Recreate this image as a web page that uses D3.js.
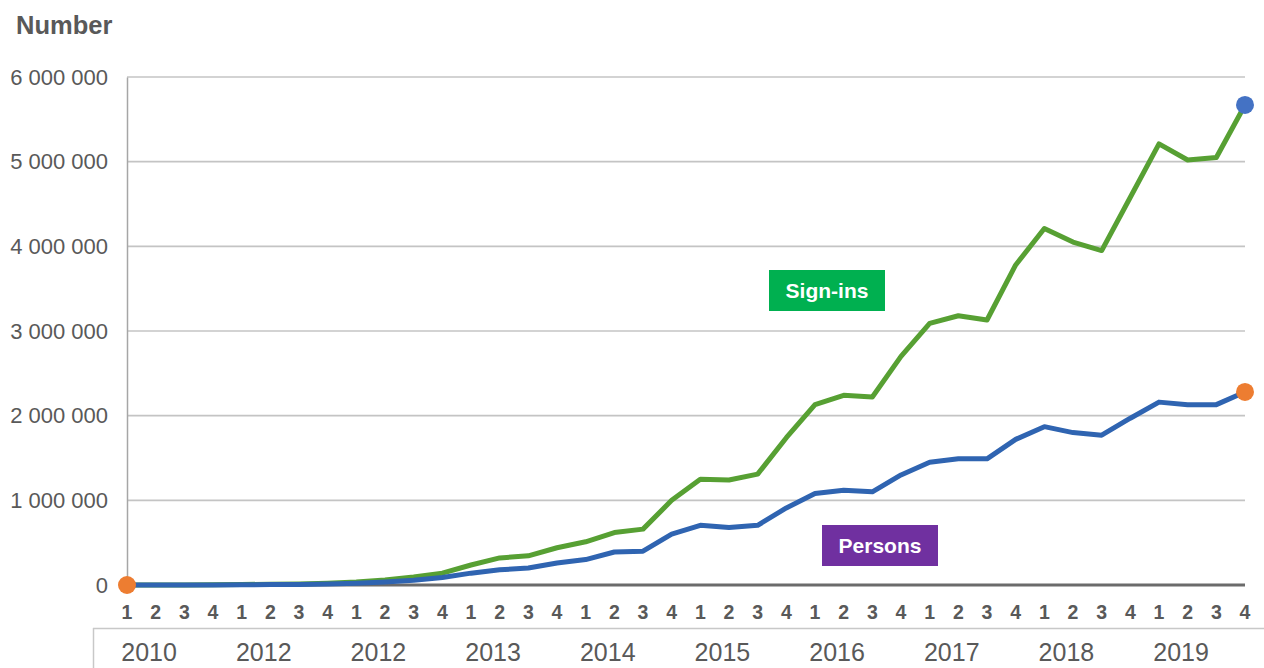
<!DOCTYPE html>
<html lang="en">
<head>
<meta charset="UTF-8">
<script src="https://d3js.org/d3.v7.min.js"></script>
<style>
  body { margin: 0; background: #fff; }
  text { font-family: "Liberation Sans", Arial, sans-serif; }
</style>
<title>Number</title>
</head>
<body>
<div class="canvas"></div>
<script>
  const years = ['2010', '2012', '2012', '2013', '2014', '2015', '2016', '2017', '2018', '2019']
  const quarters = ['1', '2', '3', '4']
  const yTicks = [0, 1000000, 2000000, 3000000, 4000000, 5000000, 6000000]

  const signIns = [0, 0, 0, 2000, 6000, 9000, 12000, 22000, 35000, 60000,
    95000, 140000, 236000, 320000, 345000, 440000, 510000, 620000, 660000, 1000000,
    1250000, 1240000, 1310000, 1740000, 2130000, 2240000, 2220000, 2700000, 3090000, 3180000,
    3130000, 3780000, 4210000, 4050000, 3950000, 4580000, 5210000, 5020000, 5050000, 5670000]
  const persons = [0, 0, 0, 0, 3000, 5000, 7000, 12000, 20000, 35000,
    55000, 88000, 140000, 180000, 200000, 260000, 300000, 390000, 400000, 600000,
    705000, 680000, 705000, 910000, 1080000, 1120000, 1100000, 1300000, 1450000, 1490000,
    1490000, 1720000, 1870000, 1800000, 1770000, 1970000, 2160000, 2130000, 2130000, 2280000]

  const W = 1264, H = 668
  const [mt, ml, mr] = [77, 127, 19]
  const plotH = 508

  const svg = d3.select('.canvas').append('svg')
    .attr('width', W).attr('height', H)

  const idx = d3.range(signIns.length)
  const x = d3.scaleLinear().domain([0, idx.length - 1]).range([ml, W - mr])
  const y = d3.scaleLinear().domain([0, 6000000]).range([mt + plotH, mt])
  const step = x(1) - x(0)

  // title
  svg.append('text')
    .attr('x', 16).attr('y', 34)
    .attr('fill', '#595959')
    .style('font-size', '25.5px').style('font-weight', 'bold')
    .text('Number')

  // gridlines
  svg.append('g').selectAll('line')
    .data(yTicks.filter(d => d > 0))
    .enter().append('line')
    .attr('x1', ml).attr('x2', W - mr)
    .attr('y1', d => y(d)).attr('y2', d => y(d))
    .attr('stroke', '#c4c4c4').attr('stroke-width', 1.6)

  // y axis
  const yAxis = d3.axisLeft(y).tickValues(yTicks).tickSize(0).tickPadding(19)
    .tickFormat(d => d3.format(',')(d).replace(/,/g, ' '))
  const yAxisG = svg.append('g').attr('transform', `translate(${ml},0)`).call(yAxis)
  yAxisG.select('.domain').attr('stroke', '#a6a6a6').attr('stroke-width', 1.5)
  yAxisG.selectAll('text')
    .attr('fill', '#595959')
    .style('font-size', '22px')
    .style('font-family', '"Liberation Sans", Arial, sans-serif')

  // baseline
  svg.append('line')
    .attr('x1', ml).attr('x2', W - mr)
    .attr('y1', y(0)).attr('y2', y(0))
    .attr('stroke', '#6b6b6b').attr('stroke-width', 3)

  // quarter labels
  svg.append('g').selectAll('text')
    .data(idx)
    .enter().append('text')
    .attr('x', i => x(i))
    .attr('y', y(0) + 34)
    .attr('text-anchor', 'middle')
    .attr('fill', '#595959')
    .style('font-size', '19.5px').style('font-weight', 'bold')
    .text(i => quarters[i % 4])

  // year box
  svg.append('line')
    .attr('x1', 93).attr('x2', W)
    .attr('y1', 628.5).attr('y2', 628.5)
    .attr('stroke', '#c8c8c8').attr('stroke-width', 1.5)
  svg.append('line')
    .attr('x1', 93.5).attr('x2', 93.5)
    .attr('y1', 628).attr('y2', H)
    .attr('stroke', '#c8c8c8').attr('stroke-width', 1.5)

  svg.append('g').selectAll('text')
    .data(years)
    .enter().append('text')
    .attr('x', (d, i) => x(i * 4) + step * 0.77)
    .attr('y', 661)
    .attr('text-anchor', 'middle')
    .attr('fill', '#595959')
    .style('font-size', '25px')
    .text(d => d)

  // lines
  const line = d3.line().x((d, i) => x(i)).y(d => y(d))

  svg.append('path').datum(signIns)
    .attr('d', line)
    .attr('fill', 'none')
    .attr('stroke', '#57a033')
    .attr('stroke-width', 5)
    .attr('stroke-linejoin', 'round')

  svg.append('path').datum(persons)
    .attr('d', line)
    .attr('fill', 'none')
    .attr('stroke', '#2f64b1')
    .attr('stroke-width', 5)
    .attr('stroke-linejoin', 'round')

  // end markers
  const last = idx.length - 1
  svg.append('circle').attr('cx', x(0)).attr('cy', y(persons[0])).attr('r', 9).attr('fill', '#ed7d31')
  svg.append('circle').attr('cx', x(last)).attr('cy', y(persons[last])).attr('r', 9).attr('fill', '#ed7d31')
  svg.append('circle').attr('cx', x(last)).attr('cy', y(signIns[last])).attr('r', 9).attr('fill', '#4472c4')

  // labels
  const labels = [
    { text: 'Sign-ins', color: '#00b050', x0: 769, y0: 270 },
    { text: 'Persons', color: '#7030a0', x0: 822, y0: 525 }
  ]
  labels.forEach(l => {
    const g = svg.append('g').attr('transform', `translate(${l.x0},${l.y0})`)
    g.append('rect').attr('width', 116).attr('height', 41).attr('fill', l.color)
    g.append('text')
      .attr('x', 58).attr('y', 28)
      .attr('text-anchor', 'middle')
      .attr('fill', '#fff')
      .style('font-size', '21px').style('font-weight', 'bold')
      .text(l.text)
  })
</script>
</body>
</html>
